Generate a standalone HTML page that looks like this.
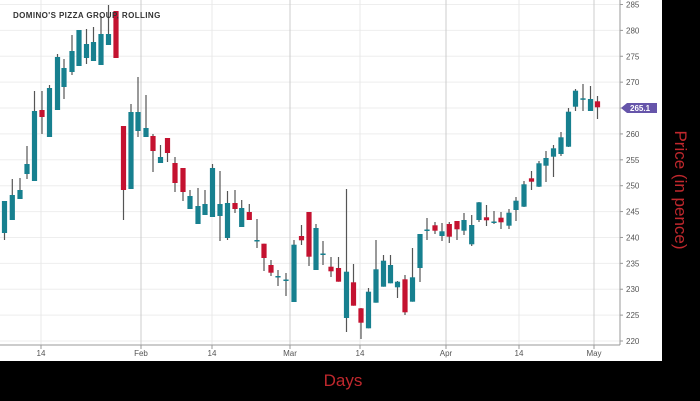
<!DOCTYPE html>
<html><head><meta charset="utf-8"><style>
html,body{margin:0;padding:0;background:#000;width:700px;height:401px;overflow:hidden}
svg{display:block}
text{font-family:"Liberation Sans",sans-serif}
</style></head><body>
<svg id="s" width="700" height="401" xmlns="http://www.w3.org/2000/svg">
<rect x="0" y="0" width="662" height="361" fill="#fff"/>
<g id="grid"></g>
<g id="c"></g>
<line x1="0" y1="345" x2="620" y2="345" stroke="#999" stroke-width="1"/>
<line x1="620" y1="0" x2="620" y2="345" stroke="#999" stroke-width="1"/>
<text x="13" y="18" font-size="8" font-weight="bold" fill="#333" letter-spacing="0.4">DOMINO'S PIZZA GROUP, ROLLING</text>
<polygon points="621,108 627,103 657,103 657,113 627,113" fill="#6655aa"/>
<text x="630" y="111" font-size="8" font-weight="bold" fill="#fff">265.1</text>
<text x="343" y="386" font-size="17" fill="#c0282d" text-anchor="middle">Days</text>
<text transform="translate(675,190) rotate(90)" font-size="17" fill="#c0282d" text-anchor="middle">Price (in pence)</text>
</svg>
<script>
var ns="http://www.w3.org/2000/svg",g=document.getElementById('grid'),c=document.getElementById('c');
function el(p,t,a){var e=document.createElementNS(ns,t);for(var k in a)e.setAttribute(k,a[k]);p.appendChild(e);return e;}
for(var p=220;p<=285;p+=5){var y=4.5+(285-p)*5.177;
el(g,'line',{x1:0,x2:620,y1:y,y2:y,stroke:'#eee'});
el(g,'line',{x1:620,x2:623,y1:y,y2:y,stroke:'#999'});
var t=el(g,'text',{x:626,y:y+3,'font-size':8,fill:'#555'});t.textContent=p;}
[[41,'14',0],[141,'Feb',1],[212,'14',0],[290,'Mar',1],[360,'14',0],[446,'Apr',1],[519,'14',0],[594,'May',1]].forEach(function(d){
el(g,'line',{x1:d[0],x2:d[0],y1:0,y2:345,stroke:d[2]?'#ccc':'#e8e8e8'});
el(g,'line',{x1:d[0],x2:d[0],y1:345,y2:349,stroke:'#999'});
var t=el(g,'text',{x:d[0],y:356,'font-size':8,fill:'#555','text-anchor':'middle'});t.textContent=d[1];});
var T='#17808f',R='#c41230';
var C=[[4.5,T,201,233,201,240],[12.3,T,195,220,179,220],[20,T,190,199,178,199],[27,T,164,174,146,179],[34.5,T,111,181,91,181],[42,R,110,117,91,134],[49.5,T,88,137,85,137],[57.5,T,57,110,54,110],[64,T,68,87,59,99],[72,T,51,72,35,75],[79,T,30,66,30,66],[86.5,T,44,58,29,64],[93.5,T,42,61,27,61],[101,T,34,65,16,65],[108.5,T,34,45,5,45],[116,R,11,58,11,58],[123.5,R,126,190,126,220],[131,T,112,189,104,189],[138,T,112,131,77,137],[146,T,128,137,95,137],[153,R,136,151,134,172],[160.5,T,157,163,145,163],[167.5,R,138,153,138,162],[175,R,163,183,157,192],[183,R,168,192,168,201],[190,T,196,209,190,209],[198,T,206,224,188,224],[205,T,204,215,190,215],[212.5,T,168,217,164,217],[220,T,204,216,171,241],[227.5,T,203,238,191,240],[235,R,203,209,190,213],[241.7,T,208,227,200,227],[249.3,R,212,220,204,220],[257,T,240,241.5,219,248],[264,R,243.7,258,243.7,271],[271,R,265,272.7,260,276],[278,T,276,277.5,270,286],[286,T,279.5,281,273,296],[294,T,244.7,302,240,302],[301.5,R,236,240.3,225,245],[309,R,212,256.7,212,266],[316,T,228,270,224,270],[323,T,253.5,255,241,265],[331,R,266.7,271.3,257,277],[338.5,R,268,281.7,257,281.7],[346.5,T,271.7,318,189,332],[353.5,R,282.3,305.7,264,305.7],[361,R,308.3,322.7,308,339],[368.5,T,291.7,328.3,288,328.3],[376,T,269.3,302.7,240,302.7],[383.5,T,260.7,286.7,255,286.7],[390.5,T,265,283.3,255,283.3],[397.5,T,281.7,287.3,281,298],[405,R,279.3,312.3,275,315],[412.5,T,277.3,301.7,248,301.7],[420,T,234,268,234,282],[427,T,229.5,231,218,240],[435,R,225.3,230.7,222,234],[442,T,231.3,236,223,241],[449.3,R,224,236.7,222,243],[457,R,221,229.3,221,240],[464,T,220,230.7,213,235],[471.7,T,225,244.3,215,246],[479,T,202.3,220,202,222],[486.5,R,217.3,220.3,205,226],[494,T,221.5,223,211,224],[501,R,217.7,222.3,212,229],[509,T,212.7,225.7,209,229],[516,T,200.7,210,197,221],[524,T,184.3,206.7,181,207],[531.5,R,178.3,181.7,171,190],[539,T,163.3,186.7,161,187],[546,T,158,165.7,151,182],[553.5,T,148.3,156.7,145,177],[561,T,137.3,154,132,156],[568.5,T,111.7,146.7,108,147],[575.5,T,90.7,106.7,89,111],[583,T,98.3,99.8,84,111],[590.5,T,99,111,86,111],[597.5,R,101.3,107.3,96,119]];
C.forEach(function(d){
el(c,'line',{x1:d[0],x2:d[0],y1:d[4],y2:d[5],stroke:'#555','stroke-width':1.2});
el(c,'rect',{x:d[0]-2.6,y:d[2],width:5.2,height:Math.max(1.5,d[3]-d[2]),fill:d[1]});});
</script>
</body></html>
